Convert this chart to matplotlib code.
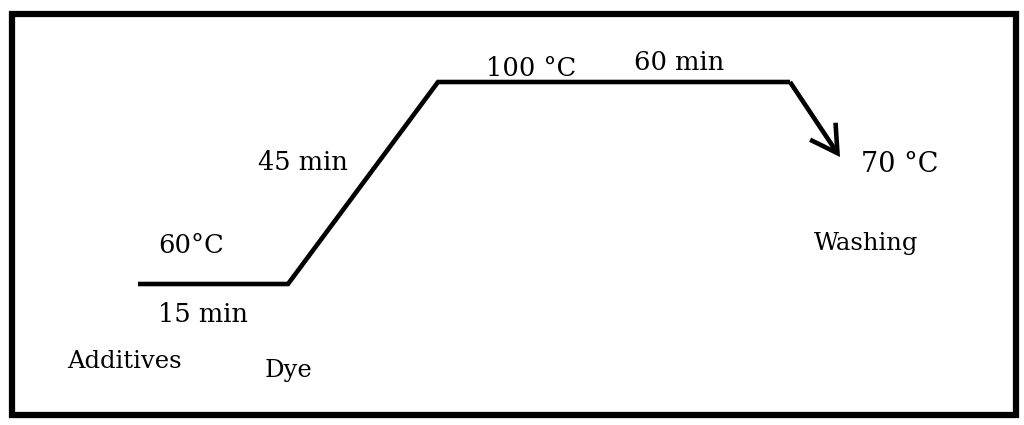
import matplotlib.pyplot as plt
from matplotlib.patches import Rectangle, FancyArrowPatch

# schematic dyeing profile (drawn in picture coordinates, y grows downward)
profile_x = [138, 288, 438, 790]
profile_y = [284, 284, 82, 82]
cool_x = [790, 840]
cool_y = [82, 157]

labels = ['60\u00b0C', '15 min', 'Additives', 'Dye', '45 min',
          '100 \u00b0C', '60 min', '70 \u00b0C', 'Washing']
label_x = [191, 203, 124, 288, 303, 531, 679, 900, 866]
label_y = [245, 314, 362, 370, 163, 68, 62, 165, 243]
label_size = [18.5, 18.5, 17.5, 17.5, 18.5, 18.5, 18.5, 19.5, 17.5]

fig = plt.figure(figsize=(10.24, 4.25), dpi=100)
ax = fig.add_axes([0, 0, 1, 1])
ax.set_xlim(0, 1024)
ax.set_ylim(425, 0)
ax.axis('off')

ax.add_patch(Rectangle((11.5, 13.5), 1004.5, 401.5, fill=False, edgecolor='black', linewidth=4.5))

ax.plot(profile_x, profile_y, color='black', linewidth=3.3, solid_joinstyle='miter',
        solid_capstyle='butt')
ax.add_patch(FancyArrowPatch((cool_x[0], cool_y[0]), (cool_x[1], cool_y[1]),
                             arrowstyle='->,head_length=0.95,head_width=0.55',
                             mutation_scale=20, color='black', linewidth=3.3,
                             shrinkA=0, shrinkB=0,
                             joinstyle='miter', capstyle='butt'))

for t, x, y, s in zip(labels, label_x, label_y, label_size):
    ax.text(x, y, t, fontsize=s, family='DejaVu Serif', ha='center', va='center')

fig.savefig('out.png', dpi=100)
